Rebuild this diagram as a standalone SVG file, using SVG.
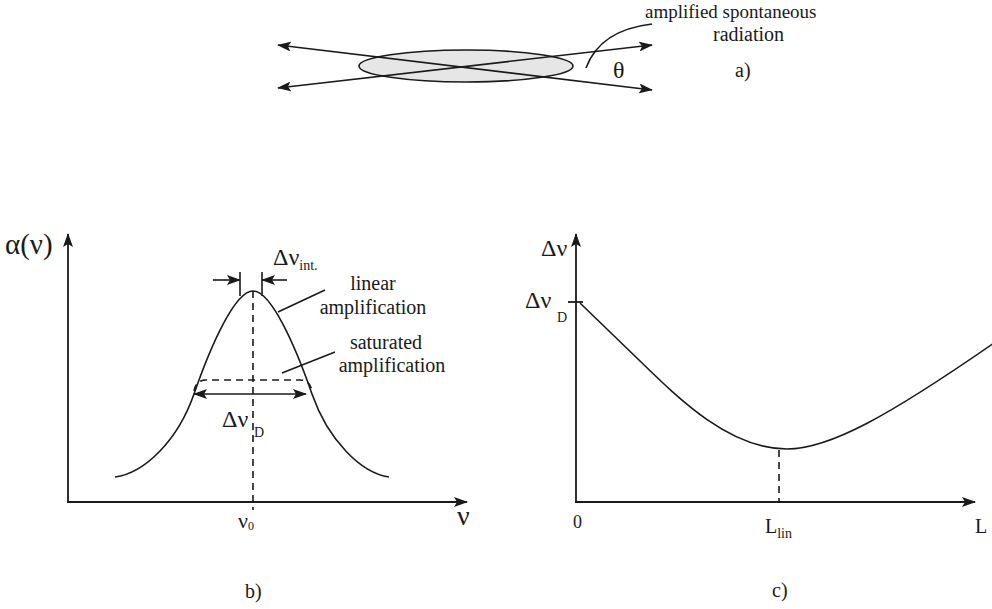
<svg xmlns="http://www.w3.org/2000/svg" width="992" height="609" viewBox="0 0 992 609">
<defs>
<style>
.ln{fill:none;stroke:#1a1a1a;stroke-width:1.6}
.ax{fill:none;stroke:#1a1a1a;stroke-width:1.8}
.ds{fill:none;stroke:#1a1a1a;stroke-width:1.6;stroke-dasharray:7,5}
.t{font-family:"Liberation Serif","Times New Roman",serif;fill:#1a1a1a}
</style>
<marker id="ah" viewBox="0 0 14 10" refX="13" refY="5" markerWidth="14" markerHeight="10" orient="auto-start-reverse" markerUnits="userSpaceOnUse">
<path d="M0,0 L14,5 L0,10 L3,5 z" fill="#1a1a1a"/>
</marker>
</defs>

<g id="panel-a">
<ellipse id="medium" cx="466" cy="66" rx="107" ry="16" fill="#e6e6e6" stroke="#1a1a1a" stroke-width="1.6"/>
<g id="rays">
<line class="ln" x1="652" y1="90" x2="278" y2="45" marker-start="url(#ah)" marker-end="url(#ah)"/>
<line class="ln" x1="652" y1="45" x2="278" y2="88" marker-start="url(#ah)" marker-end="url(#ah)"/>
<path class="ln" d="M652,24 Q600,30 586,68"/>
</g>
<text class="t" x="645" y="18" font-size="19">amplified spontaneous</text>
<text class="t" x="713" y="41" font-size="20">radiation</text>
<text class="t" x="613" y="78" font-size="24">θ</text>
<text class="t" x="735" y="77" font-size="20">a)</text>
</g>

<g id="panel-b">
<g id="axes-b">
<line class="ax" x1="68" y1="502" x2="68" y2="234" marker-end="url(#ah)"/>
<line class="ax" x1="67" y1="502" x2="467" y2="502" marker-end="url(#ah)"/>
</g>
<path id="gain-curve" class="ln" d="M115,477 C145,473 178,440 194,394 C211,345 235,291 253,291 C271,291 295,345 312,394 C328,440 361,473 389,477"/>
<line class="ds" x1="253" y1="291" x2="253" y2="510"/>
<path class="ds" d="M194,391 Q196,380 206,380 L300,380 Q310,380 312,391"/>
<line class="ln" x1="194" y1="394" x2="306" y2="394" marker-start="url(#ah)" marker-end="url(#ah)"/>
<line class="ln" x1="240" y1="272" x2="240" y2="296"/>
<line class="ln" x1="262" y1="272" x2="262" y2="296"/>
<line class="ln" x1="213" y1="280" x2="240" y2="280" marker-end="url(#ah)"/>
<line class="ln" x1="287" y1="280" x2="262" y2="280" marker-end="url(#ah)"/>
<line class="ln" x1="278" y1="312" x2="325" y2="290"/>
<line class="ln" x1="282" y1="373" x2="335" y2="352"/>
<text class="t" x="5" y="254" font-size="29">α(ν)</text>
<text class="t" x="273" y="265" font-size="24">Δν<tspan font-size="14" dy="5">int.</tspan></text>
<text class="t" x="373" y="290" font-size="20" text-anchor="middle">linear</text>
<text class="t" x="373" y="314" font-size="20" text-anchor="middle">amplification</text>
<text class="t" x="386" y="349" font-size="20" text-anchor="middle">saturated</text>
<text class="t" x="392" y="372" font-size="20" text-anchor="middle">amplification</text>
<text class="t" x="222" y="427" font-size="24">Δν</text>
<text class="t" x="254" y="437" font-size="14">D</text>
<text class="t" x="457" y="525" font-size="28">ν</text>
<text class="t" x="238" y="528" font-size="22">ν<tspan font-size="12" dy="2">0</tspan></text>
<text class="t" x="245" y="598" font-size="20">b)</text>
</g>

<g id="panel-c">
<g id="axes-c">
<line class="ax" x1="576" y1="502" x2="576" y2="234" marker-end="url(#ah)"/>
<line class="ax" x1="575" y1="502" x2="975" y2="502" marker-end="url(#ah)"/>
</g>
<line class="ax" x1="568" y1="302" x2="583" y2="302"/>
<path id="width-curve" class="ln" d="M580,303 L640,361 C680,400 730,449 787,449 C830,449 890,415 994,343"/>
<line class="ds" x1="779" y1="450" x2="779" y2="502"/>
<text class="t" x="541" y="256" font-size="24">Δν</text>
<text class="t" x="525" y="308" font-size="24">Δν</text>
<text class="t" x="557" y="322" font-size="14">D</text>
<text class="t" x="573" y="528" font-size="18">0</text>
<text class="t" x="765" y="533" font-size="20">L<tspan font-size="14" dy="5">lin</tspan></text>
<text class="t" x="975" y="533" font-size="20">L</text>
<text class="t" x="772" y="597" font-size="20">c)</text>
</g>
</svg>
